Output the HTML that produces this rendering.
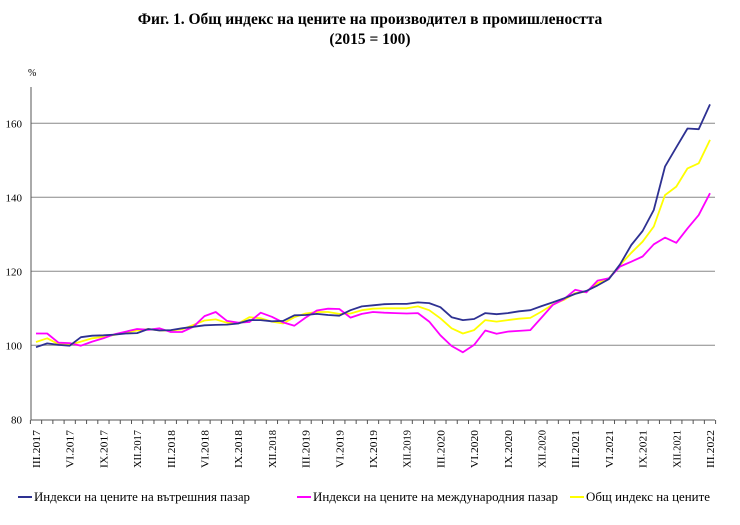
<!DOCTYPE html>
<html><head><meta charset="utf-8"><style>
body{margin:0;background:#fff;}
svg{display:block;font-family:"Liberation Serif",serif;}
</style></head><body>
<svg id="c" width="740" height="525" xmlns="http://www.w3.org/2000/svg">
<text x="370" y="24" text-anchor="middle" font-size="15.5" font-weight="bold">Фиг. 1. Общ индекс на цените на производител в промишлеността</text>
<text x="370" y="44" text-anchor="middle" font-size="15.5" font-weight="bold">(2015 = 100)</text>
<text x="28" y="76" font-size="10">%</text>
<g id="grid"></g>
<g id="series"></g>
<g font-size="12.5">
<line x1="18" y1="497" x2="32" y2="497" stroke="#2e3192" stroke-width="2"/>
<text x="34" y="501" textLength="216" lengthAdjust="spacingAndGlyphs">Индекси на цените на вътрешния пазар</text>
<line x1="297" y1="497" x2="311" y2="497" stroke="#ff00ff" stroke-width="2"/>
<text x="313" y="501" textLength="245" lengthAdjust="spacingAndGlyphs">Индекси на цените на международния пазар</text>
<line x1="570" y1="497" x2="584" y2="497" stroke="#ffff00" stroke-width="2"/>
<text x="586" y="501" textLength="124" lengthAdjust="spacingAndGlyphs">Общ индекс на цените</text>
</g>
</svg>
<script>
var NS="http://www.w3.org/2000/svg";
function el(p,t,a,txt){var e=document.createElementNS(NS,t);for(var k in a)e.setAttribute(k,a[k]);if(txt)e.textContent=txt;p.appendChild(e);return e;}
function Y(v){return 345.3-(v-100)*3.7;}
function X(i){return 36+i*11.233;}
var g=document.getElementById('grid');
[160,140,120,100].forEach(function(v){el(g,'line',{x1:31,x2:715,y1:Y(v),y2:Y(v),stroke:'#888','stroke-width':1});});
el(g,'line',{x1:31,x2:31,y1:87,y2:420,stroke:'#555','stroke-width':1});
el(g,'line',{x1:31,x2:715,y1:420,y2:420,stroke:'#555','stroke-width':1});
[160,140,120,100,80].forEach(function(v){el(g,'text',{x:22,y:Y(v)+4,'font-size':11,'text-anchor':'end'},String(v));});
for(var i=0;i<=60;i++){el(g,'line',{x1:X(i)-5.6,x2:X(i)-5.6,y1:420,y2:424,stroke:'#555'});}
el(g,'line',{x1:X(60)+5.6,x2:X(60)+5.6,y1:420,y2:424,stroke:'#555'});
var m=['III','VI','IX','XII'];
for(var q=0;q<=20;q++){var yr=2017+Math.floor(q/4);var lab=m[q%4]+'.'+yr;var x=X(q*3)+4;
el(g,'text',{x:0,y:0,'font-size':10.5,'text-anchor':'end',transform:'translate('+x+',430) rotate(-90)',textLength:38,lengthAdjust:'spacingAndGlyphs'},lab);}
var blue=[99.5,100.5,100.1,99.9,102.2,102.6,102.7,102.9,103.2,103.3,104.4,104,104.1,104.6,105,105.4,105.5,105.6,105.9,106.8,106.8,106.5,106.6,108.1,108.2,108.5,108.2,108,109.5,110.5,110.8,111.1,111.2,111.2,111.6,111.4,110.3,107.6,106.8,107.1,108.7,108.4,108.7,109.2,109.5,110.6,111.6,112.7,113.9,114.7,116.2,117.9,121.9,127.1,130.9,136.6,148.3,153.5,158.6,158.4,165.1];
var mag=[103.2,103.2,100.7,100.6,99.9,101,101.9,103,103.7,104.4,104.2,104.6,103.6,103.6,105,107.9,109,106.6,106.1,106.3,108.8,107.7,106.2,105.3,107.5,109.4,109.9,109.8,107.5,108.5,109,108.8,108.7,108.6,108.7,106.4,102.7,99.8,98.1,100.1,104,103.1,103.7,103.9,104.1,107.5,110.9,112.5,115,114.3,117.5,118.1,121.3,122.6,124,127.3,129.1,127.7,131.6,135.2,141.1];
var yel=[100.9,101.9,100.3,100.1,101,101.9,102.3,102.8,103.5,104,104.4,104,104,104.3,105.5,106.7,107,106.1,105.9,107.6,107.3,106.4,105.9,107.6,108.6,109,109,108.5,108.6,109.5,109.9,110,110,110,110.5,109.5,107.3,104.6,103.2,104.1,106.8,106.4,106.8,107.2,107.4,109.1,111,112.3,114.1,114.5,116.8,118.1,121.7,125,128,132.1,140.6,142.9,147.8,149.2,155.5];
var s=document.getElementById('series');
[[yel,'#ffff00'],[mag,'#ff00ff'],[blue,'#2e3192']].forEach(function(d){
var pts=d[0].map(function(v,i){return X(i).toFixed(1)+','+Y(v).toFixed(1);}).join(' ');
el(s,'polyline',{points:pts,fill:'none',stroke:d[1],'stroke-width':1.8,'stroke-linejoin':'round'});});
</script>
</body></html>
